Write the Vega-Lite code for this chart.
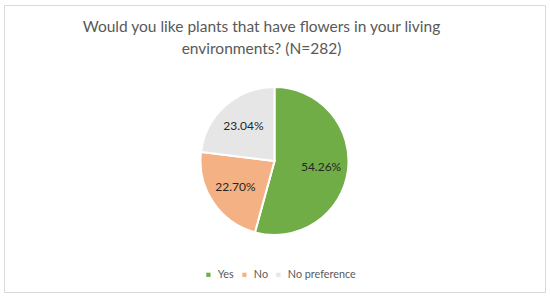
{
  "$schema": "https://vega.github.io/schema/vega-lite/v6.json",
  "autosize": {"type": "fit", "contains": "padding"},
  "width": 550,
  "height": 297,
  "padding": {"left": 4, "top": 5, "right": 5, "bottom": 5},
  "background": "white",
  "view": {"stroke": "#D9D9D9", "strokeWidth": 1},
  "config": {
    "view": {"stroke": "#D9D9D9", "strokeWidth": 1},
    "font": "Lato"
  },
  "title": {
    "text": ["Would you like plants that have flowers in your living", "environments? (N=282)"],
    "anchor": "middle",
    "frame": "group",
    "offset": -52,
    "dx": -13,
    "font": "Lato",
    "fontSize": 15.5,
    "fontWeight": "normal",
    "color": "#595959",
    "lineHeight": 22
  },
  "data": {
    "values": [
      {"answer": "Yes", "share": 0.5426, "rank": 1},
      {"answer": "No", "share": 0.2270, "rank": 2},
      {"answer": "No preference", "share": 0.2304, "rank": 3}
    ]
  },
  "encoding": {
    "theta": {"field": "share", "type": "quantitative", "stack": true},
    "order": {"field": "rank", "type": "quantitative"}
  },
  "layer": [
    {
      "mark": {"type": "arc", "radius": 74, "stroke": "white", "strokeWidth": 2, "y": {"expr": "height/2 + 12.5"}},
      "encoding": {
        "color": {
          "field": "answer",
          "type": "nominal",
          "scale": {"domain": ["Yes", "No", "No preference"], "range": ["#70AD47", "#F4B183", "#E7E6E6"]},
          "legend": {
            "title": null,
            "orient": "none",
            "legendX": 199,
            "legendY": 264,
            "direction": "horizontal",
            "symbolType": "square",
            "symbolSize": 18,
            "symbolStrokeWidth": 0,
            "labelFontSize": 10.8,
            "labelColor": "#595959",
            "labelFont": "Lato",
            "columnPadding": 5,
            "labelOffset": 4
          }
        }
      }
    },
    {
      "mark": {"type": "text", "radius": 47, "fontSize": 12, "font": "Lato", "color": "#262626", "y": {"expr": "height/2 + 12.5"}},
      "encoding": {
        "text": {"field": "share", "type": "quantitative", "format": ".2%"}
      }
    }
  ]
}
